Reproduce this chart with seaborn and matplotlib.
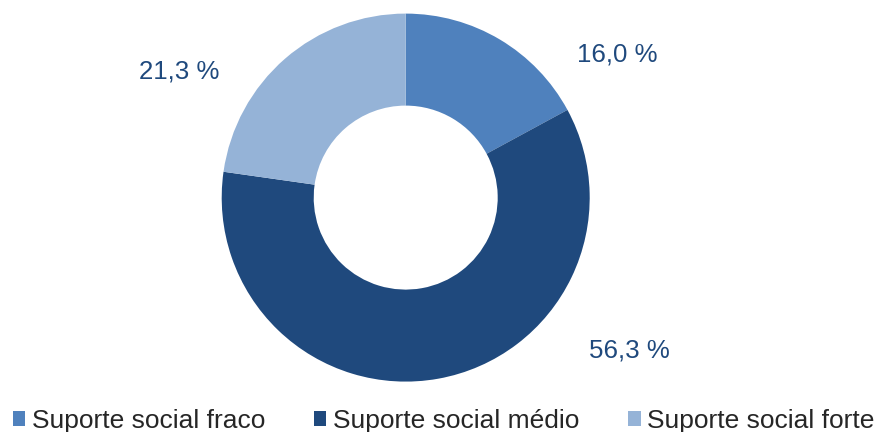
import matplotlib
matplotlib.use("Agg")
import matplotlib.pyplot as plt
from matplotlib.patches import Patch
import seaborn as sns

# Data
categories = ["Suporte social fraco", "Suporte social médio", "Suporte social forte"]
values = [16.0, 56.3, 21.3]
colors = ["#4F81BD", "#1F497D", "#95B3D7"]
label_pos = [(1.148, 0.737), (1.216, -0.867), (-1.232, 0.650)]

sns.set_theme(style="white")
plt.rcParams["font.family"] = ["Liberation Sans", "DejaVu Sans"]
palette = sns.color_palette(colors)

fig = plt.figure(figsize=(8.8, 4.32), dpi=100)
ax = fig.add_axes([0, 0, 1, 1])

W, H = 880, 432
cx, cy, R = 405.7, 197.6, 184.0

wedges, _ = ax.pie(values, colors=palette, startangle=90, counterclock=False,
                   radius=1.0, wedgeprops=dict(width=0.5, edgecolor="none", linewidth=0))

ax.set_xlim(-cx / R, (W - cx) / R)
ax.set_ylim(-(H - cy) / R, cy / R)
ax.set_aspect("auto")
ax.axis("off")

for v, (x, y) in zip(values, label_pos):
    txt = f"{v:.1f} %".replace(".", ",")
    ax.text(x, y, txt, ha="center", va="baseline", fontsize=18.6, color="#1F497D")

handles = [Patch(facecolor=c, edgecolor="none") for c in palette]
fig.legend(handles, categories, loc="center left", bbox_to_anchor=(13 / W, (H - 421) / H),
           ncol=3, frameon=False, fontsize=19, handlelength=0.46, handleheight=0.46,
           handletextpad=0.25, columnspacing=1.86, borderpad=0, borderaxespad=0)

fig.savefig("out.png", dpi=100)
